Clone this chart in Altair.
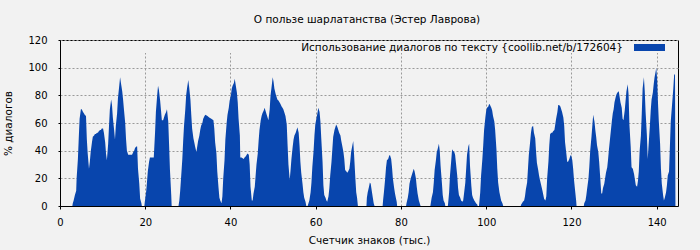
import altair as alt
import pandas as pd

TITLE = "О пользе шарлатанства (Эстер Лаврова)"
X_TITLE = "Счетчик знаков (тыс.)"
Y_TITLE = "% диалогов"
LEGEND = "Использование диалогов по тексту {coollib.net/b/172604}"
X_TICKS = [0, 20, 40, 60, 80, 100, 120, 140]
Y_TICKS = [0, 20, 40, 60, 80, 100, 120]

# thousand characters
x_vals = [
    0, 2.9, 3.0, 3.2, 3.5, 3.8, 3.9, 4.2, 4.4, 4.6, 4.9, 5.1, 5.4, 5.6, 5.8, 6.1, 6.3, 6.5, 6.8, 7.0,
    7.2, 7.5, 7.7, 8.0, 8.2, 8.4, 8.7, 8.9, 9.1, 9.4, 9.6, 9.8, 10.1, 10.3, 10.6, 10.8, 11.0, 11.3, 11.5, 11.7,
    12.0, 12.2, 12.4, 12.7, 12.9, 13.1, 13.4, 13.6, 13.9, 14.1, 14.3, 14.6, 14.8, 15.0, 15.3, 15.5, 15.7, 16.0, 16.5, 16.9,
    17.2, 17.4, 17.6, 17.9, 18.1, 18.3, 18.6, 18.8, 19.1, 19.2,
    19.8, 19.9, 20.2, 20.4, 20.6, 20.9, 21.1, 22.0, 22.1, 22.3, 22.5, 22.8, 23.0, 23.2, 23.5, 23.7, 23.9, 24.2, 24.4, 24.6,
    24.9, 25.1, 25.4, 25.6, 25.8, 26.1, 26.2,
    27.8, 28.0, 28.2, 28.4, 28.7, 28.9, 29.1, 29.4, 29.6, 29.8, 30.1, 30.3, 30.6, 30.8, 31.0, 31.3, 31.5, 31.7, 32.0, 32.2,
    32.4, 32.7, 32.9, 33.1, 33.4, 33.6, 33.9, 34.1, 34.6, 35.0, 35.5, 36.0, 36.2, 36.4, 36.7, 36.9, 37.2, 37.4, 37.6, 37.9,
    38.1, 38.3, 38.6, 38.8, 39.1, 39.3, 39.6, 39.8, 40.1, 40.3, 40.5, 40.8, 41.0, 41.2, 41.5, 41.7, 41.9, 42.2, 42.3, 42.6,
    43.1, 43.3, 43.6, 43.8, 44.0, 44.3, 44.5, 44.7, 45.0, 45.2, 45.4, 45.7, 45.9, 46.1, 46.4, 46.6, 46.8, 47.1, 47.3, 47.5,
    47.8, 48.0, 48.2, 48.5, 48.7, 48.9, 49.2, 49.4, 49.6, 49.9, 50.1, 50.3, 50.6, 50.8, 51.0, 51.3, 51.5, 51.7, 52.0, 52.2,
    52.4, 52.7, 52.9, 53.2, 53.4, 53.6, 53.9, 54.1, 54.3, 54.6, 54.8, 55.0, 55.3, 55.5, 55.7, 56.0, 56.2, 56.4, 56.6, 56.9,
    57.1, 57.3, 57.6, 57.8, 58.1, 58.3, 58.5, 58.8, 59.0, 59.2, 59.5, 59.7, 59.9, 60.2, 60.4, 60.6, 60.9, 61.1, 61.3, 61.6,
    61.8, 62.0, 62.3, 62.5, 62.7, 63.0, 63.2, 63.4, 63.7, 63.9, 64.1, 64.4, 64.6, 64.8, 65.1, 65.3, 65.5, 65.8, 66.0, 66.2,
    66.5, 66.7, 66.9, 67.2, 67.4, 67.6, 67.9, 68.1, 68.3, 68.6, 68.8, 69.0, 69.3, 69.5, 69.7, 69.9,
    71.9, 72.0, 72.2, 72.5, 72.7, 72.9, 73.2, 73.4, 73.6, 73.8,
    75.7, 75.8, 76.0, 76.3, 76.5, 76.7, 77.0, 77.2, 77.4, 77.7, 77.9, 78.1, 78.4, 78.6, 78.8, 79.0, 79.1,
    81.2, 81.3, 81.6, 81.8, 82.0, 82.3, 82.5, 82.7, 83.0, 83.2, 83.5, 83.7, 83.9, 84.2, 84.4, 84.6,
    86.9, 87.0, 87.2, 87.5, 87.7, 87.9, 88.2, 88.4, 88.6, 88.9, 89.1, 89.3, 89.6, 89.8, 90.0, 90.3, 90.4,
    91.0, 91.1, 91.3, 91.5, 91.8, 92.0, 92.2, 92.5, 92.7, 92.9, 93.2, 93.4, 93.6, 93.9, 94.1, 94.4, 94.6, 94.8, 95.1, 95.3,
    95.5, 95.8, 96.0, 96.2, 96.5, 96.7, 96.9, 97.2, 97.4, 97.6, 97.9, 98.0,
    98.3, 98.4, 98.6, 98.8, 99.1, 99.3, 99.5, 99.8, 100.0, 100.2, 100.5, 100.7, 100.9, 101.2, 101.4, 101.6, 101.9, 102.1, 102.4, 102.6,
    102.8, 103.1, 103.3, 103.5, 103.8, 104.0,
    108.1, 108.2, 108.4, 108.6, 108.9, 109.1, 109.3, 109.6, 109.8, 110.0, 110.3, 110.5, 110.7, 111.0, 111.2, 111.5, 111.7, 111.9, 112.2, 112.4,
    112.6, 112.9, 113.2, 113.4, 113.6, 113.9, 114.1, 114.3, 114.6, 114.8, 115.0, 115.3, 115.5, 115.7, 116.0, 116.2, 116.4, 116.7, 116.9, 117.1,
    117.4, 117.6, 117.8, 118.1, 118.3, 118.5, 118.8, 119.0, 119.2, 119.5, 119.7, 119.9, 120.2, 120.4, 120.6, 120.9, 121.1, 121.2,
    122.9, 123.0, 123.3, 123.5, 123.7, 124.0, 124.2, 124.4, 124.7, 124.9, 125.1, 125.4, 125.6, 125.8, 126.0, 126.3, 126.5, 126.7, 127.0, 127.2,
    127.4, 127.7, 127.9, 128.1, 128.4, 128.6, 128.8, 129.1, 129.3, 129.5, 129.7, 129.9, 130.1, 130.4, 130.6, 130.8, 131.1, 131.3, 131.5, 131.8,
    132.0, 132.2, 132.5, 132.7, 132.9, 133.2, 133.4, 133.6, 133.9, 134.1, 134.4, 134.7, 134.9, 135.1, 135.4, 135.6, 135.8, 136.0, 136.3, 136.5,
    136.7, 137.0, 137.2, 137.4, 137.7, 137.9, 138.1, 138.4, 138.6, 138.8, 139.1, 139.3, 139.5, 139.8, 139.9, 140.1, 140.3, 140.5, 140.8, 141.0,
    141.2, 141.5, 141.7, 141.9, 142.2, 142.4, 142.6, 142.9, 143.1, 143.3, 143.6, 143.9, 144.1, 144.3, 144.4,
]

# % of dialogue
y_vals = [
    0, 0, 2, 4, 8, 11, 20, 34, 49, 63, 70, 70, 68, 67, 66, 65, 48, 38, 27, 32,
    39, 46, 50, 51, 52, 52, 53, 53, 54, 55, 55, 56, 56, 53, 46, 38, 33, 45, 58, 70,
    77, 73, 64, 55, 48, 58, 67, 78, 87, 93, 89, 83, 77, 70, 60, 48, 40, 37, 37, 37,
    39, 40, 42, 43, 43, 27, 16, 5.5, 2, 0,
    0, 3, 10, 17, 25, 32, 35, 35, 41, 53, 68, 80, 87, 84, 76, 69, 62, 62, 64, 66,
    68, 70, 61, 44, 26, 8, 0,
    0, 4, 11, 20, 34, 47, 58, 70, 80, 85, 91, 86, 77, 66, 56, 49, 46, 43, 39, 43,
    47, 51, 55, 58, 60, 63, 65, 66, 65, 64, 63, 62, 56, 46, 38, 25, 13, 6, 4, 2,
    7, 20, 33, 48, 60, 66, 71, 76, 80, 85, 87, 89, 92, 88, 82, 75, 63, 51, 35, 35,
    34, 35, 36, 37, 38, 37, 30, 14, 4, 4, 9, 14, 22, 30, 38, 47, 55, 62, 65, 67,
    69, 71, 69, 66, 64, 62, 70, 80, 85, 93, 90, 85, 81, 79, 77, 76, 75, 74, 72, 71,
    70, 67, 65, 59, 44, 30, 19, 26, 34, 43, 48, 51, 53, 55, 57, 53, 44, 32, 24, 16,
    10, 6, 3, 0, 0, 2, 4, 10, 17, 28, 40, 51, 59, 64, 67, 71, 68, 61, 49, 32,
    15, 8, 6, 4, 3, 7, 13, 22, 32, 41, 50, 55, 57, 59, 57, 55, 53, 51, 47, 44,
    39, 34, 26, 25, 24, 25, 27, 32, 39, 44, 47, 37, 20, 10, 6, 0,
    0, 6, 10, 14, 17, 16, 10, 6, 2, 0,
    0, 4, 10, 20, 28, 33, 34, 36, 37, 34, 28, 20, 13, 9, 6, 3, 0,
    0, 2, 6, 10, 16, 20, 22, 24, 27, 25, 20, 14, 9, 4, 2, 0,
    0, 2, 6, 10, 17, 26, 33, 39, 41, 45, 40, 29, 17, 8, 4, 2, 0,
    0, 3, 10, 22, 33, 41, 40, 39, 37, 31, 22, 13, 8, 6, 4, 3, 4, 9, 17, 27,
    37, 43, 45, 29, 15, 8, 6, 4, 3, 2, 1, 0,
    0, 3, 10, 22, 34, 44, 55, 64, 69, 71, 72, 74, 73, 71, 69, 65, 61, 55, 41, 27,
    17, 10, 7, 4, 2, 0,
    0, 1, 2, 3, 4, 7, 12, 17, 27, 37, 46, 53, 57, 58, 53, 49, 39, 31, 26, 22,
    19, 15, 11, 8, 5, 4, 7, 20, 32, 44, 52, 53, 53, 54, 55, 59, 63, 68, 73, 73,
    72, 70, 68, 64, 58, 46, 38, 32, 32, 34, 36, 37, 33, 27, 19, 10, 4, 0,
    0, 2, 4, 8, 13, 20, 29, 40, 50, 58, 66, 61, 55, 50, 44, 39, 32, 23, 9, 9,
    13, 16, 20, 24, 28, 34, 41, 50, 56, 62, 67, 70, 75, 79, 81, 82, 83, 79, 75, 71,
    63, 62, 69, 76, 83, 88, 81, 59, 43, 28, 27, 23, 19, 15, 14, 18, 25, 40, 51, 67,
    85, 93, 83, 68, 51, 34, 44, 58, 69, 77, 82, 88, 93, 98, 100, 92, 75, 61, 45, 27,
    16, 8, 4, 6, 10, 15, 22, 25, 43, 61, 73, 85, 95, 95, 0,
]

df = pd.DataFrame({"x": x_vals, "y": y_vals})

FONT = "DejaVu Sans"
BG = "#f2f2f2"
BLUE = "#0845ad"
TXT = 10.5

x_enc = alt.X(
    "x:Q",
    scale=alt.Scale(domain=[0, 145], nice=False, zero=False),
    axis=alt.Axis(
        values=X_TICKS, title=X_TITLE, format="d", labelFlush=False,
        grid=True, gridColor="#9a9a9a", gridDash=[2, 2], gridWidth=1,
        domainColor="black", tickColor="black", tickSize=3,
        labelPadding=8, labelFont=FONT, labelFontSize=10, labelColor="black",
        titleFont=FONT, titleFontSize=TXT, titleFontWeight="normal", titleColor="black",
        titleBaseline="alphabetic", titleY=37,
    ),
)
y_enc = alt.Y(
    "y:Q",
    scale=alt.Scale(domain=[0, 120], nice=False),
    axis=alt.Axis(
        values=Y_TICKS, title=Y_TITLE, format="d", labelFlush=False,
        grid=True, gridColor="#9a9a9a", gridDash=[2, 2], gridWidth=1,
        domainColor="black", tickColor="black", tickSize=2,
        labelPadding=11, labelFont=FONT, labelFontSize=10, labelColor="black",
        titleFont=FONT, titleFontSize=TXT, titleFontWeight="normal", titleColor="black",
        titleBaseline="middle", titleX=-52, titleY=83, titleAngle=270,
    ),
)

area = alt.Chart(df).mark_area(color=BLUE, interpolate="linear").encode(x=x_enc, y=y_enc)

one = pd.DataFrame({"t": [LEGEND], "title": [TITLE]})

strip = alt.Chart(one).mark_rect(color=BG).encode(
    x=alt.value(1.5), x2=alt.value(617), y=alt.value(1), y2=alt.value(13)
)

legend_text = alt.Chart(one).mark_text(
    align="right", baseline="middle", font=FONT, fontSize=TXT, color="black"
).encode(text="t:N", x=alt.value(563), y=alt.value(8))

legend_swatch = alt.Chart(one).mark_rect(color=BLUE).encode(
    x=alt.value(574), x2=alt.value(605), y=alt.value(4), y2=alt.value(11)
)

title_text = alt.Chart(one).mark_text(
    align="center", baseline="alphabetic", font=FONT, fontSize=TXT, color="black"
).encode(text="title:N", x=alt.value(307), y=alt.value(-17))

chart = (
    alt.layer(area, strip, legend_text, legend_swatch, title_text)
    .properties(
        width=618,
        height=166,
        autosize=alt.AutoSizeParams(type="none"),
        padding={"left": 60, "top": 40, "right": 22, "bottom": 44},
        background=BG,
    )
    .configure_view(stroke="black", strokeWidth=1, fill=BG)
)

chart.save("out.html", embed_options={"renderer": "svg", "actions": False})
